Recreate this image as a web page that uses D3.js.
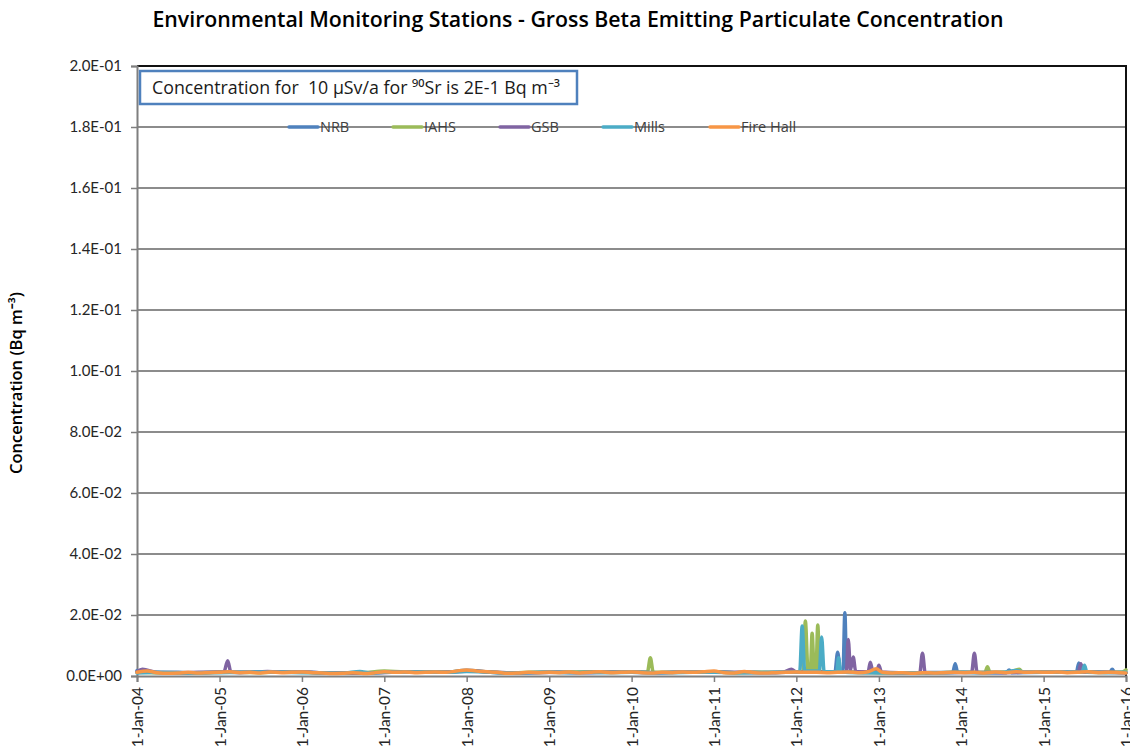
<!DOCTYPE html>
<html>
<head>
<meta charset="utf-8">
<script src="https://cdn.jsdelivr.net/npm/d3@7"></script>
<style>
  body { margin: 0; background: #fff; }
  svg { display: block; font-family: Lato, "Open Sans", sans-serif; }
</style>
</head>
<body>
<div id="chart"></div>
<script>
// Series names and colours (Excel 2007 palette)
const seriesNames = ["NRB", "IAHS", "GSB", "Mills", "Fire Hall"];
const seriesColors = ["#4f81bd", "#9bbb59", "#8064a2", "#4bacc6", "#f79646"];

// Tick labels
const yTicks = [0, 0.02, 0.04, 0.06, 0.08, 0.1, 0.12, 0.14, 0.16, 0.18, 0.2];
const xTickYears = ["2004", "2005", "2006", "2007", "2008", "2009", "2010", "2011", "2012", "2013", "2014", "2015", "2016"];

// Values: [date, Bq m-3]
const nrb = [
  ["2004-01-01", 0.0018], ["2004-02-10", 0.0014], ["2004-04-15", 0.0011], ["2004-07-01", 0.0012], ["2004-10-01", 0.0010],
  ["2005-01-01", 0.0013], ["2005-04-01", 0.0011], ["2005-07-01", 0.0014], ["2005-10-01", 0.0012],
  ["2006-01-01", 0.0013], ["2006-04-01", 0.0011], ["2006-07-01", 0.0009], ["2006-10-01", 0.0010],
  ["2007-01-01", 0.0013], ["2007-04-01", 0.0012], ["2007-07-01", 0.0013], ["2007-10-01", 0.0012],
  ["2008-01-01", 0.0019], ["2008-04-01", 0.0013], ["2008-07-01", 0.0010], ["2008-10-01", 0.0011],
  ["2009-01-01", 0.0012], ["2009-04-01", 0.0012], ["2009-07-01", 0.0011], ["2009-10-01", 0.0012],
  ["2010-01-01", 0.0012], ["2010-04-01", 0.0011], ["2010-07-01", 0.0012], ["2010-10-01", 0.0013],
  ["2011-01-01", 0.0014], ["2011-04-01", 0.0011], ["2011-07-01", 0.0012], ["2011-10-01", 0.0011],
  ["2012-01-01", 0.0013], ["2012-03-01", 0.0012], ["2012-06-20", 0.0012], ["2012-07-02", 0.0078],
  ["2012-07-14", 0.0014], ["2012-07-26", 0.0016], ["2012-08-03", 0.0207], ["2012-08-11", 0.0015],
  ["2012-10-01", 0.0012], ["2013-01-01", 0.0011], ["2013-04-01", 0.0010], ["2013-07-01", 0.0011],
  ["2013-11-24", 0.0012], ["2013-12-05", 0.0040], ["2013-12-16", 0.0012],
  ["2014-04-01", 0.0011], ["2014-07-20", 0.0011], ["2014-08-01", 0.0020], ["2014-08-12", 0.0011],
  ["2015-01-01", 0.0012], ["2015-05-26", 0.0012], ["2015-06-06", 0.0043], ["2015-06-17", 0.0013],
  ["2015-10-20", 0.0012], ["2015-11-01", 0.0022], ["2015-11-12", 0.0012], ["2016-01-01", 0.0011]
];

const iahs = [
  ["2004-01-01", 0.0012], ["2004-04-01", 0.0011], ["2004-07-01", 0.0010], ["2004-10-01", 0.0011],
  ["2005-01-01", 0.0012], ["2005-04-01", 0.0012], ["2005-07-01", 0.0011], ["2005-10-01", 0.0013],
  ["2006-01-01", 0.0012], ["2006-04-01", 0.0010], ["2006-07-01", 0.0010], ["2006-10-01", 0.0011],
  ["2007-01-01", 0.0016], ["2007-04-01", 0.0013], ["2007-07-01", 0.0014], ["2007-10-01", 0.0013],
  ["2008-01-01", 0.0017], ["2008-04-01", 0.0014], ["2008-07-01", 0.0010], ["2008-10-01", 0.0012],
  ["2009-01-01", 0.0012], ["2009-04-01", 0.0013], ["2009-07-01", 0.0014], ["2009-10-01", 0.0013],
  ["2010-01-01", 0.0014], ["2010-03-12", 0.0013], ["2010-03-25", 0.0060], ["2010-04-07", 0.0012],
  ["2010-07-01", 0.0012], ["2010-10-01", 0.0012], ["2011-01-01", 0.0013], ["2011-04-01", 0.0011],
  ["2011-07-01", 0.0012], ["2011-10-01", 0.0012], ["2012-01-01", 0.0013], ["2012-01-30", 0.0014],
  ["2012-02-10", 0.0180], ["2012-02-22", 0.0016], ["2012-03-03", 0.0016], ["2012-03-11", 0.0140],
  ["2012-03-20", 0.0018], ["2012-03-28", 0.0018], ["2012-04-05", 0.0167], ["2012-04-14", 0.0015],
  ["2012-07-01", 0.0012], ["2012-10-01", 0.0012], ["2013-01-01", 0.0011], ["2013-04-01", 0.0011],
  ["2013-07-01", 0.0010], ["2013-10-01", 0.0011], ["2014-01-01", 0.0012], ["2014-04-16", 0.0012],
  ["2014-04-27", 0.0030], ["2014-05-08", 0.0012], ["2014-08-01", 0.0013], ["2014-09-15", 0.0022],
  ["2014-10-01", 0.0012], ["2015-01-01", 0.0013], ["2015-04-01", 0.0012], ["2015-07-01", 0.0014],
  ["2015-10-01", 0.0012], ["2015-12-15", 0.0013], ["2016-01-01", 0.0020]
];

const gsb = [
  ["2004-01-01", 0.0014], ["2004-01-25", 0.0022], ["2004-04-01", 0.0012], ["2004-07-01", 0.0011], ["2004-10-01", 0.0012],
  ["2005-01-20", 0.0013], ["2005-02-06", 0.0050], ["2005-02-20", 0.0013], ["2005-05-01", 0.0012],
  ["2005-08-01", 0.0015], ["2005-11-01", 0.0012], ["2006-02-01", 0.0012], ["2006-05-01", 0.0010],
  ["2006-08-01", 0.0010], ["2006-11-01", 0.0010], ["2007-02-01", 0.0012], ["2007-05-01", 0.0012],
  ["2007-08-01", 0.0012], ["2007-11-01", 0.0014], ["2008-02-01", 0.0016], ["2008-05-01", 0.0012],
  ["2008-08-01", 0.0010], ["2008-11-01", 0.0011], ["2009-02-01", 0.0012], ["2009-05-01", 0.0011],
  ["2009-08-01", 0.0012], ["2009-11-01", 0.0012], ["2010-02-01", 0.0012], ["2010-05-01", 0.0011],
  ["2010-08-01", 0.0012], ["2010-11-01", 0.0012], ["2011-02-01", 0.0012], ["2011-05-01", 0.0012],
  ["2011-08-01", 0.0011], ["2011-11-01", 0.0012], ["2011-12-10", 0.0022], ["2012-01-01", 0.0013],
  ["2012-08-10", 0.0014], ["2012-08-18", 0.0120], ["2012-08-28", 0.0020], ["2012-09-09", 0.0062],
  ["2012-09-20", 0.0015], ["2012-11-14", 0.0014], ["2012-11-24", 0.0045], ["2012-12-05", 0.0015],
  ["2012-12-22", 0.0015], ["2013-01-01", 0.0035], ["2013-01-12", 0.0013], ["2013-04-01", 0.0011],
  ["2013-07-01", 0.0011], ["2013-07-13", 0.0075], ["2013-07-25", 0.0011], ["2013-11-01", 0.0011],
  ["2014-02-16", 0.0012], ["2014-02-28", 0.0075], ["2014-03-12", 0.0012], ["2014-07-01", 0.0011],
  ["2014-10-01", 0.0012], ["2015-01-01", 0.0012], ["2015-04-01", 0.0012], ["2015-06-04", 0.0013],
  ["2015-06-15", 0.0040], ["2015-06-26", 0.0013], ["2015-10-01", 0.0012], ["2016-01-01", 0.0011]
];

const mills = [
  ["2004-01-01", 0.0010], ["2004-04-01", 0.0012], ["2004-07-01", 0.0011], ["2004-10-01", 0.0010],
  ["2005-01-01", 0.0011], ["2005-04-01", 0.0012], ["2005-07-01", 0.0013], ["2005-10-01", 0.0012],
  ["2006-01-01", 0.0011], ["2006-04-01", 0.0010], ["2006-07-01", 0.0009], ["2006-09-15", 0.0015],
  ["2006-11-01", 0.0010], ["2007-01-01", 0.0012], ["2007-04-01", 0.0012], ["2007-07-01", 0.0013],
  ["2007-10-01", 0.0012], ["2008-01-01", 0.0015], ["2008-04-01", 0.0013], ["2008-07-01", 0.0010],
  ["2008-10-01", 0.0011], ["2009-01-01", 0.0012], ["2009-04-01", 0.0011], ["2009-07-01", 0.0012],
  ["2009-10-01", 0.0011], ["2010-01-01", 0.0012], ["2010-04-01", 0.0011], ["2010-07-01", 0.0011],
  ["2010-10-01", 0.0012], ["2011-01-01", 0.0012], ["2011-04-01", 0.0011], ["2011-07-01", 0.0011],
  ["2011-10-01", 0.0012], ["2012-01-01", 0.0013], ["2012-01-16", 0.0014], ["2012-01-27", 0.0164],
  ["2012-02-07", 0.0016], ["2012-04-12", 0.0016], ["2012-04-22", 0.0128], ["2012-05-03", 0.0015],
  ["2012-06-28", 0.0014], ["2012-07-06", 0.0060], ["2012-07-16", 0.0013], ["2012-10-01", 0.0011],
  ["2013-01-01", 0.0011], ["2013-04-01", 0.0010], ["2013-07-01", 0.0011], ["2013-10-01", 0.0011],
  ["2014-01-01", 0.0012], ["2014-04-01", 0.0011], ["2014-07-01", 0.0012], ["2014-09-01", 0.0018],
  ["2014-10-15", 0.0012], ["2015-01-01", 0.0012], ["2015-04-01", 0.0012], ["2015-06-20", 0.0012],
  ["2015-07-01", 0.0035], ["2015-07-12", 0.0012], ["2015-10-01", 0.0011], ["2016-01-01", 0.0012]
];

const fireHall = [
  ["2004-01-01", 0.0012], ["2004-02-15", 0.0016], ["2004-04-01", 0.0011], ["2004-05-15", 0.0009],
  ["2004-07-01", 0.0010], ["2004-08-15", 0.0012], ["2004-10-01", 0.0010], ["2004-11-15", 0.0011],
  ["2005-01-01", 0.0012], ["2005-02-15", 0.0014], ["2005-04-01", 0.0011], ["2005-05-15", 0.0012],
  ["2005-07-01", 0.0010], ["2005-08-15", 0.0013], ["2005-10-01", 0.0011], ["2005-11-15", 0.0012],
  ["2006-01-01", 0.0013], ["2006-02-15", 0.0011], ["2006-04-01", 0.0010], ["2006-05-15", 0.0008],
  ["2006-07-01", 0.0009], ["2006-08-15", 0.0011], ["2006-10-01", 0.0008], ["2006-11-15", 0.0010],
  ["2007-01-01", 0.0014], ["2007-02-15", 0.0012], ["2007-04-01", 0.0013], ["2007-05-15", 0.0011],
  ["2007-07-01", 0.0012], ["2007-08-15", 0.0013], ["2007-10-01", 0.0012], ["2007-11-15", 0.0016],
  ["2008-01-01", 0.0020], ["2008-02-15", 0.0016], ["2008-04-01", 0.0014], ["2008-05-15", 0.0012],
  ["2008-07-01", 0.0009], ["2008-08-15", 0.0010], ["2008-10-01", 0.0012], ["2008-11-15", 0.0011],
  ["2009-01-01", 0.0012], ["2009-02-15", 0.0011], ["2009-04-01", 0.0013], ["2009-05-15", 0.0010],
  ["2009-07-01", 0.0012], ["2009-08-15", 0.0014], ["2009-10-01", 0.0011], ["2009-11-15", 0.0012],
  ["2010-01-01", 0.0013], ["2010-02-15", 0.0011], ["2010-04-01", 0.0010], ["2010-05-15", 0.0012],
  ["2010-07-01", 0.0011], ["2010-08-15", 0.0013], ["2010-10-01", 0.0012], ["2010-11-15", 0.0014],
  ["2011-01-01", 0.0016], ["2011-02-15", 0.0011], ["2011-04-01", 0.0010], ["2011-05-15", 0.0015],
  ["2011-07-01", 0.0011], ["2011-08-15", 0.0010], ["2011-10-01", 0.0011], ["2011-11-15", 0.0012],
  ["2012-01-01", 0.0013], ["2012-02-15", 0.0012], ["2012-04-01", 0.0012], ["2012-05-15", 0.0011],
  ["2012-07-01", 0.0012], ["2012-08-15", 0.0013], ["2012-10-01", 0.0011], ["2012-11-15", 0.0014],
  ["2012-12-20", 0.0024], ["2013-01-15", 0.0012], ["2013-03-01", 0.0010], ["2013-04-15", 0.0011],
  ["2013-06-01", 0.0009], ["2013-07-15", 0.0011], ["2013-09-01", 0.0010], ["2013-10-15", 0.0011],
  ["2013-12-01", 0.0012], ["2014-01-15", 0.0011], ["2014-03-01", 0.0012], ["2014-04-15", 0.0010],
  ["2014-06-01", 0.0013], ["2014-07-15", 0.0011], ["2014-09-01", 0.0014], ["2014-10-15", 0.0012],
  ["2014-12-01", 0.0013], ["2015-01-15", 0.0012], ["2015-03-01", 0.0013], ["2015-04-15", 0.0011],
  ["2015-06-01", 0.0012], ["2015-07-15", 0.0014], ["2015-09-01", 0.0011], ["2015-10-15", 0.0012],
  ["2015-12-01", 0.0011], ["2016-01-01", 0.0010]
];

const allSeries = [nrb, iahs, gsb, mills, fireHall];

// Layout
const width = 1130;
const height = 750;
const marginLeft = 137;
const marginRight = 4;
const marginTop = 66;
const marginBottom = 74;
const innerW = width - marginLeft - marginRight;
const innerH = height - marginTop - marginBottom;

const parseDate = d3.timeParse("%Y-%m-%d");

const x = d3.scaleTime()
  .domain([parseDate("2004-01-01"), parseDate("2016-01-01")])
  .range([marginLeft, marginLeft + innerW]);

const y = d3.scaleLinear()
  .domain([0, 0.2])
  .range([marginTop + innerH, marginTop]);

const svg = d3.select("#chart")
  .append("svg")
  .attr("width", width)
  .attr("height", height);

// Title
svg.append("text")
  .attr("x", 578)
  .attr("y", 27)
  .attr("text-anchor", "middle")
  .style("font-family", "'Open Sans', sans-serif")
  .style("font-size", "21.3px")
  .style("font-weight", "600")
  .style("fill", "#000")
  .text("Environmental Monitoring Stations - Gross Beta Emitting Particulate Concentration");

// Horizontal gridlines
svg.append("g")
  .selectAll("line")
  .data(yTicks.slice(1))
  .join("line")
  .attr("x1", marginLeft)
  .attr("x2", marginLeft + innerW)
  .attr("y1", (d) => y(d))
  .attr("y2", (d) => y(d))
  .attr("stroke", "#8c8c8c")
  .attr("stroke-width", 2);

// Plot frame (top and right)
svg.append("path")
  .attr("d", `M${marginLeft},${marginTop}H${marginLeft + innerW}V${marginTop + innerH}`)
  .attr("fill", "none")
  .attr("stroke", "#111")
  .attr("stroke-width", 2);

// Y axis
const yAxis = d3.axisLeft(y)
  .tickValues(yTicks)
  .tickSize(6)
  .tickPadding(9)
  .tickFormat((d) => d3.format(".1e")(d).replace(/e([+-])(\d)$/, "E$10$2").replace("e", "E"));

svg.append("g")
  .attr("transform", `translate(${marginLeft},0)`)
  .call(yAxis)
  .call((g) => g.select(".domain").attr("stroke", "#7f7f7f").attr("stroke-width", 2))
  .call((g) => g.selectAll(".tick line").attr("stroke", "#7f7f7f").attr("stroke-width", 1.5))
  .call((g) => g.selectAll("text")
    .style("font-family", "Lato, sans-serif")
    .style("font-size", "15px")
    .style("fill", "#262626"));

// X axis
const xAxis = d3.axisBottom(x)
  .tickValues(xTickYears.map((yr) => parseDate(yr + "-01-01")))
  .tickSize(6)
  .tickFormat(d3.timeFormat("1-%b-%y"));

svg.append("g")
  .attr("transform", `translate(0,${marginTop + innerH})`)
  .call(xAxis)
  .call((g) => g.select(".domain").attr("stroke", "#7f7f7f").attr("stroke-width", 2))
  .call((g) => g.selectAll(".tick line").attr("stroke", "#7f7f7f").attr("stroke-width", 1.5))
  .call((g) => g.selectAll("text")
    .attr("transform", "rotate(-90)")
    .attr("text-anchor", "end")
    .attr("x", -11)
    .attr("y", 0)
    .attr("dy", "0.35em")
    .style("font-family", "Lato, sans-serif")
    .style("font-size", "15.5px")
    .style("fill", "#262626"));

// Y axis title
svg.append("text")
  .attr("transform", "translate(22,383) rotate(-90)")
  .attr("text-anchor", "middle")
  .style("font-family", "'Open Sans', sans-serif")
  .style("font-size", "16.5px")
  .style("font-weight", "600")
  .style("fill", "#000")
  .text("Concentration (Bq m\u207B\u00B3)");

// Data lines
const line = d3.line()
  .x((d) => x(parseDate(d[0])))
  .y((d) => y(d[1]))
  .curve(d3.curveMonotoneX);

svg.append("g")
  .selectAll("path")
  .data(allSeries)
  .join("path")
  .attr("d", line)
  .attr("fill", "none")
  .attr("stroke", (d, i) => seriesColors[i])
  .attr("stroke-width", 3.5)
  .attr("stroke-linejoin", "round")
  .attr("stroke-linecap", "round");

// Annotation box
const note = svg.append("g");
note.append("rect")
  .attr("x", 140)
  .attr("y", 71)
  .attr("width", 437)
  .attr("height", 33)
  .attr("fill", "#fff")
  .attr("stroke", "#4f81bd")
  .attr("stroke-width", 2.5);
note.append("text")
  .attr("x", 152)
  .attr("y", 94)
  .style("font-family", "'Open Sans', sans-serif")
  .style("font-size", "17.8px")
  .style("white-space", "pre")
  .style("fill", "#1a1a1a")
  .text("Concentration for  10 \u00B5Sv/a for \u2079\u2070Sr is 2E-1 Bq m\u207B\u00B3");

// Legend
const legendX = [289, 393, 500, 603, 710];
const legend = svg.append("g")
  .selectAll("g")
  .data(seriesNames)
  .join("g")
  .attr("transform", (d, i) => `translate(${legendX[i]},${y(0.18)})`);
legend.append("line")
  .attr("x1", 0)
  .attr("x2", 29)
  .attr("stroke", (d, i) => seriesColors[i])
  .attr("stroke-width", 3.5)
  .attr("stroke-linecap", "round");
legend.append("text")
  .attr("x", 31)
  .attr("dy", "0.35em")
  .style("font-family", "'Open Sans', sans-serif")
  .style("font-size", "14.5px")
  .style("fill", "#404040")
  .text((d) => d);
</script>
</body>
</html>
